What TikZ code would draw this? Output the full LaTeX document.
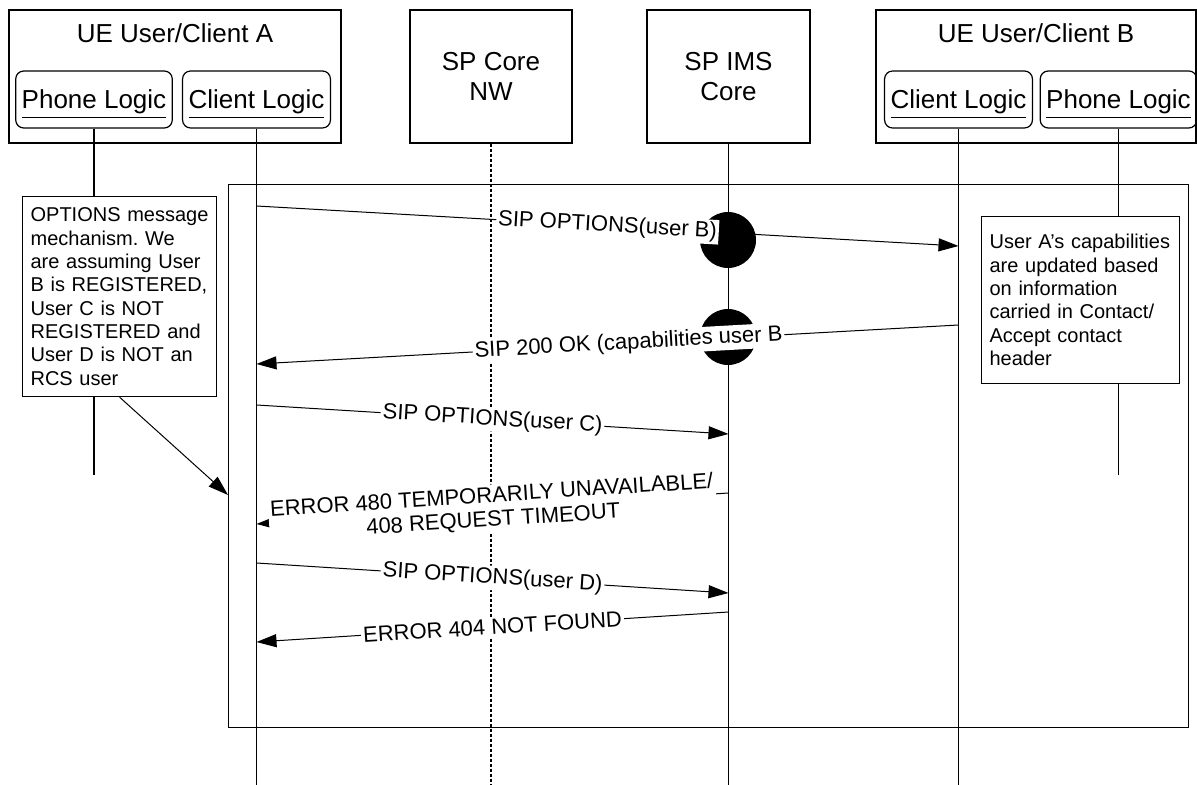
\documentclass[tikz,border=0pt]{standalone}
\usepackage{fontspec}
\setmainfont{Liberation Sans}
\usetikzlibrary{arrows.meta}
\frenchspacing

\begin{document}
\begin{tikzpicture}[x=0.5pt,y=-0.5pt,line width=0.6pt,
		head/.style={draw,minimum height=66.5pt,inner sep=0pt,align=center,font=\fontsize{13}{15}\selectfont},
		headtxt/.style={inner sep=0pt,font=\fontsize{13}{15}\selectfont},
		logic/.style={draw,rounded corners=4pt,minimum height=28.5pt,inner xsep=3pt,inner ysep=0pt,text depth=0pt,font=\fontsize{13}{15}\selectfont},
		corelife/.style={dash pattern=on 1.5pt off 1pt},
		msg/.style={line width=0.5pt,-{Triangle[length=10pt,width=6.5pt]}},
		lbl/.style={fill=white,inner sep=1pt,sloped,font=\fontsize{11}{12}\selectfont},
		notebox/.style={draw,fill=white,align=left,anchor=north west,inner xsep=4pt,inner ysep=0pt,font=\fontsize{10}{11.65}\selectfont}]
	\useasboundingbox (0,0) rectangle (1197,785);

	\node[head,minimum width=166pt] (ueA) at (175,76.5) {};
	\node[headtxt] (ueAtitle) at (175,33) {UE User/Client A};
	\node[logic] (phoneA) at (94,99.5) {\underline{Phone Logic}};
	\node[logic] (clientA) at (256.5,99.5) {\underline{Client Logic}};
	\node[head,minimum width=81pt] (core) at (491,76.5) {SP Core\\NW};
	\node[head,minimum width=81.5pt] (ims) at (728.5,76.5) {SP IMS\\Core};
	\node[head,minimum width=160pt] (ueB) at (1036,76.5) {};
	\node[headtxt] (ueBtitle) at (1036,33) {UE User/Client B};
	\node[logic] (clientB) at (958.5,99.5) {\underline{Client Logic}};
	\node[logic] (phoneB) at (1118.5,99.5) {\underline{Phone Logic}};

	\coordinate (phoneAend) at (94,475);
	\coordinate (clientAend) at (256.5,785);
	\coordinate (coreend) at (491,785);
	\coordinate (imsend) at (728.5,785);
	\coordinate (clientBend) at (958.5,785);
	\coordinate (phoneBend) at (1118.5,475);

	\draw (phoneA.south) -- (phoneAend);
	\draw (clientA.south) -- (clientAend);
	\draw[corelife] (core.south) -- (coreend);
	\draw (ims.south) -- (imsend);
	\draw (clientB.south) -- (clientBend);
	\draw (phoneB.south) -- (phoneBend);

	\node[draw,minimum width=480pt,minimum height=271.5pt,inner sep=0pt,anchor=north west] (frame) at (228,184) {};

	\fill (728,240) circle[radius=14pt];
	\fill (728,337) circle[radius=14pt];

	\coordinate (m1a) at (256.5,206);
	\coordinate (m1b) at (958.5,246);
	\coordinate (m2a) at (958.5,325);
	\coordinate (m2b) at (256.5,364);
	\coordinate (m3a) at (256.5,405);
	\coordinate (m3b) at (728.5,434);
	\coordinate (m4a) at (728.5,493);
	\coordinate (m4b) at (256.5,524);
	\coordinate (m5a) at (256.5,563);
	\coordinate (m5b) at (728.5,593);
	\coordinate (m6a) at (728.5,612);
	\coordinate (m6b) at (256.5,642);

	\draw[msg] (m1a) -- node[lbl] {SIP OPTIONS(user B)} (m1b);
	\draw[msg] (m2a) -- node[lbl,pos=0.47] {SIP 200 OK (capabilities user B} (m2b);
	\draw[msg] (m3a) -- node[lbl] {SIP OPTIONS(user C)} (m3b);
	\draw[msg] (m4a) -- node[lbl,align=center] {ERROR 480 TEMPORARILY UNAVAILABLE/\\408 REQUEST TIMEOUT} (m4b);
	\draw[msg] (m5a) -- node[lbl] {SIP OPTIONS(user D)} (m5b);
	\draw[msg] (m6a) -- node[lbl] {ERROR 404 NOT FOUND} (m6b);

	\node[notebox,text width=89pt,minimum height=100pt] (noteA) at (22,196) {OPTIONS message\\mechanism. We\\are assuming User\\B is REGISTERED,\\User C is NOT\\REGISTERED and\\User D is NOT an\\RCS user};
	\node[notebox,text width=91pt,minimum height=83.5pt] (noteB) at (981,216) {User A's capabilities\\are updated based\\on information\\carried in Contact/\\Accept contact\\header};

	\coordinate (frameIn) at (228,495);
	\draw[msg] (noteA.south) -- (frameIn);
\end{tikzpicture}
\end{document}
